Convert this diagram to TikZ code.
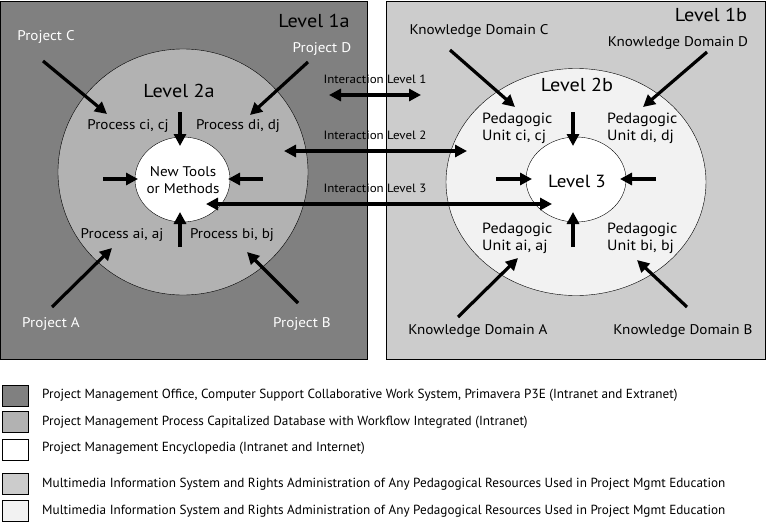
\documentclass[tikz,border=0pt]{standalone}
\usepackage{fontspec}
\setmainfont[FakeStretch=1.08]{PT Sans}
\newfontfamily\legfont{PT Sans}
\usetikzlibrary{arrows.meta,shapes.geometric}
\definecolor{gOne}{gray}{0.5}
\definecolor{gTwo}{gray}{0.70}
\definecolor{gThree}{gray}{0.80}
\definecolor{gFour}{gray}{0.95}
\begin{document}
\begin{tikzpicture}[x=1pt,y=-1pt,
  arr/.style={line width=3.2pt,-{Triangle[length=12pt,width=12pt]}},
  darr/.style={line width=3.6pt,{Triangle[length=12pt,width=12pt]}-{Triangle[length=12pt,width=12pt]}},
  lbl/.style={inner sep=0pt,font=\fontsize{14}{16}\selectfont},
  wlbl/.style={lbl,text=white},
  big/.style={inner sep=0pt,font=\fontsize{18.7}{21}\selectfont},
  ilbl/.style={inner sep=0pt,font=\fontsize{12}{14}\selectfont},
  ped/.style={inner sep=0pt,anchor=west,align=left,font=\fontsize{14.8}{17}\selectfont},
  ring/.style={ellipse,draw=black,line width=0.4pt,inner sep=0pt},
  legbox/.style={draw=black,line width=0.5pt,minimum width=26pt,minimum height=21pt,inner sep=0pt},
  legtxt/.style={anchor=west,inner sep=0pt,font=\legfont\fontsize{13.2}{15}\selectfont}]
\useasboundingbox (0,0) rectangle (766,522);
% boxes
\node[draw=black,line width=0.6pt,fill=gOne,minimum width=366pt,minimum height=358pt,inner sep=0pt,anchor=north west] (boxa) at (0.5,0.5) {};
\node[draw=black,line width=0.6pt,fill=gThree,minimum width=379pt,minimum height=358pt,inner sep=0pt,anchor=north west] (boxb) at (386,0.5) {};
% ellipses
\node[ring,fill=gTwo,minimum width=250pt,minimum height=246pt] (ea) at (183,172) {};
\node[ring,fill=white,minimum width=95pt,minimum height=85pt] (ia) at (182.5,179.5) {};
\node[ring,fill=gFour,minimum width=260pt,minimum height=227pt] (eb) at (576,182) {};
\node[ring,fill=white,minimum width=100pt,minimum height=85pt] (ib) at (576,179.5) {};
% left labels
\node[big] (l1a) at (314,21) {Level 1a};
\node[big] (l2a) at (179,91) {Level 2a};
\node[wlbl] (pc) at (46,37) {Project C};
\node[wlbl] (pd) at (322,49) {Project D};
\node[wlbl] (pa) at (51,324) {Project A};
\node[wlbl] (pb) at (302,324) {Project B};
\node[lbl] (prc) at (128,126) {Process ci, cj};
\node[lbl] (prd) at (238,126) {Process di, dj};
\node[lbl] (pra) at (122,235) {Process ai, aj};
\node[lbl] (prb) at (232,235) {Process bi, bj};
\node[lbl,align=center,font=\fontsize{14}{16.5}\selectfont] (ntm) at (183,180) {New Tools\\or Methods};
% right labels
\node[big] (l1b) at (711,15) {Level 1b};
\node[big] (l2b) at (577,85) {Level 2b};
\node[big,font=\fontsize{17.6}{19}\selectfont] (l3) at (577,181) {Level 3};
\node[lbl] (kc) at (479,31) {Knowledge Domain C};
\node[lbl] (kd) at (678,43) {Knowledge Domain D};
\node[lbl] (ka) at (478,331) {Knowledge Domain A};
\node[lbl] (kb) at (683,331) {Knowledge Domain B};
\node[ped] (puc) at (482,128) {Pedagogic\\Unit ci, cj};
\node[ped] (pud) at (607,128) {Pedagogic\\Unit di, dj};
\node[ped] (pua) at (482,238) {Pedagogic\\Unit ai, aj};
\node[ped] (pub) at (607,238) {Pedagogic\\Unit bi, bj};
% interaction labels
\node[ilbl] (il1) at (375,79) {Interaction Level 1};
\node[ilbl] (il2) at (375,135) {Interaction Level 2};
\node[ilbl] (il3) at (375,188) {Interaction Level 3};
% coordinates for arrows (left)
\coordinate (cs) at (43,61);   \coordinate (ce) at (107,114);
\coordinate (ds) at (308,62);  \coordinate (de) at (250,115);
\coordinate (as) at (52,307);  \coordinate (ae) at (112,248);
\coordinate (bs) at (298,303); \coordinate (be) at (247,252);
\coordinate (ts) at (180,112); \coordinate (te) at (180,146);
\coordinate (us) at (180,247); \coordinate (ue) at (180,212);
\coordinate (ls) at (103,179); \coordinate (le) at (138,179);
\coordinate (rs) at (263,179); \coordinate (re) at (228,179);
\draw[arr] (cs) -- (ce);
\draw[arr] (ds) -- (de);
\draw[arr] (as) -- (ae);
\draw[arr] (bs) -- (be);
\draw[arr] (ts) -- (te);
\draw[arr] (us) -- (ue);
\draw[arr] (ls) -- (le);
\draw[arr] (rs) -- (re);
% right arrows
\coordinate (kcs) at (450,50);  \coordinate (kce) at (515,107);
\coordinate (kds) at (707,52);  \coordinate (kde) at (643,107);
\coordinate (kas) at (458,317); \coordinate (kae) at (518,258);
\coordinate (kbs) at (687,307); \coordinate (kbe) at (637,260);
\coordinate (rts) at (573,112); \coordinate (rte) at (573,146);
\coordinate (rus) at (573,247); \coordinate (rue) at (573,212);
\coordinate (rls) at (496,179); \coordinate (rle) at (532,179);
\coordinate (rrs) at (656,179); \coordinate (rre) at (620,179);
\draw[arr] (kcs) -- (kce);
\draw[arr] (kds) -- (kde);
\draw[arr] (kas) -- (kae);
\draw[arr] (kbs) -- (kbe);
\draw[arr] (rts) -- (rte);
\draw[arr] (rus) -- (rue);
\draw[arr] (rls) -- (rle);
\draw[arr] (rrs) -- (rre);
% interaction arrows
\coordinate (i1a) at (329,95);  \coordinate (i1b) at (421,95);
\coordinate (i2a) at (284,151); \coordinate (i2b) at (467,151);
\coordinate (i3a) at (206,204); \coordinate (i3b) at (552,204);
\draw[darr] (i1a) -- (i1b);
\draw[darr] (i2a) -- (i2b);
\draw[darr] (i3a) -- (i3b);
% legend
\node[legbox,fill=gOne] (s1) at (15,396) {};
\node[legbox,fill=gTwo] (s2) at (15,422) {};
\node[legbox,fill=white] (s3) at (15,449.5) {};
\node[legbox,fill=gThree] (s4) at (15,484) {};
\node[legbox,fill=gFour] (s5) at (15,510.5) {};
\node[legtxt] (t1) at (42,395) {Project Management Office, Computer Support Collaborative Work System, Primavera P3E (Intranet and Extranet)};
\node[legtxt] (t2) at (42,422) {Project Management Process Capitalized Database with Workflow Integrated (Intranet)};
\node[legtxt] (t3) at (42,448) {Project Management Encyclopedia (Intranet and Internet)};
\node[legtxt] (t4) at (42,484) {Multimedia Information System and Rights Administration of Any Pedagogical Resources Used in Project Mgmt Education};
\node[legtxt] (t5) at (42,511) {Multimedia Information System and Rights Administration of Any Pedagogical Resources Used in Project Mgmt Education};
\end{tikzpicture}
\end{document}
